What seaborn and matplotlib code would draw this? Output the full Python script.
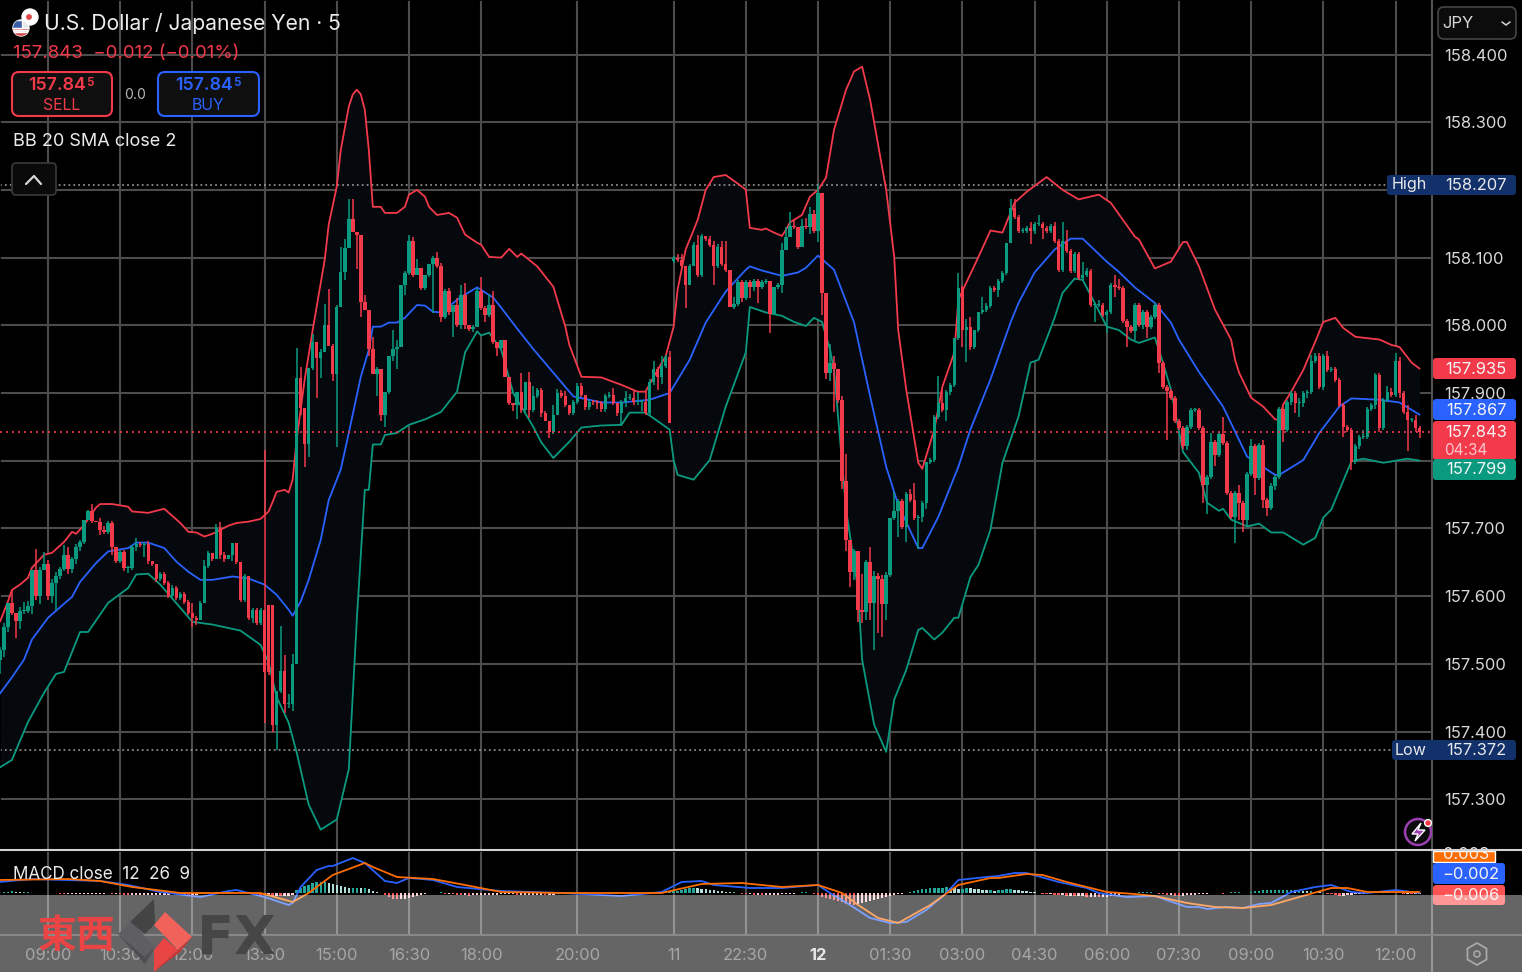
import numpy as np
import pandas as pd
import seaborn as sns
import matplotlib.pyplot as plt
from matplotlib.patches import FancyBboxPatch, Rectangle, Polygon, Circle, RegularPolygon

# 5 minute USD/JPY bars, bar 0 is the first 09:00 tick
first_bar = -12
closes = [
    157.520, 157.555, 157.590, 157.575, 157.563, 157.578, 157.578, 157.585, 157.638, 157.600,
    157.638, 157.648, 157.600, 157.620, 157.630, 157.640, 157.660, 157.640, 157.655, 157.672,
    157.680, 157.712, 157.725, 157.711, 157.710, 157.698, 157.695, 157.708, 157.672, 157.652,
    157.665, 157.642, 157.642, 157.672, 157.677, 157.675, 157.677, 157.652, 157.647, 157.626,
    157.633, 157.620, 157.600, 157.612, 157.597, 157.603, 157.592, 157.575, 157.567, 157.565,
    157.590, 157.645, 157.663, 157.655, 157.700, 157.660, 157.655, 157.660, 157.678, 157.650,
    157.595, 157.630, 157.567, 157.580, 157.560, 157.580, 157.488, 157.488, 157.410, 157.460,
    157.490, 157.440, 157.440, 157.500, 157.922, 157.878, 157.824, 157.937, 157.975, 157.952,
    157.960, 158.000, 157.970, 157.928, 158.027, 158.079, 158.114, 158.157, 158.138, 158.133,
    158.035, 158.023, 157.965, 157.928, 157.935, 157.868, 157.902, 157.955, 157.965, 157.968,
    158.060, 158.077, 158.125, 158.075, 158.085, 158.055, 158.075, 158.090, 158.100, 158.087,
    158.012, 158.050, 158.020, 158.030, 158.000, 158.045, 158.000, 157.995, 157.998, 158.050,
    158.025, 158.015, 158.030, 157.975, 157.966, 157.978, 157.924, 157.885, 157.883, 157.902,
    157.875, 157.917, 157.875, 157.895, 157.904, 157.870, 157.858, 157.843, 157.868, 157.900,
    157.895, 157.882, 157.871, 157.887, 157.910, 157.897, 157.880, 157.887, 157.886, 157.885,
    157.877, 157.895, 157.897, 157.885, 157.871, 157.887, 157.893, 157.893, 157.886, 157.886,
    157.886, 157.871, 157.917, 157.935, 157.924, 157.940, 157.953, 157.855, 158.100, 158.097,
    158.088, 158.059, 158.087, 158.118, 158.075, 158.132, 158.127, 158.119, 158.088, 158.115,
    158.090, 158.082, 158.027, 158.032, 158.064, 158.040, 158.064, 158.056, 158.066, 158.056,
    158.064, 158.066, 158.017, 158.057, 158.059, 158.111, 158.130, 158.147, 158.145, 158.115,
    158.147, 158.145, 158.165, 158.140, 158.195, 158.047, 157.930, 157.945, 157.935, 157.890,
    157.770, 157.683, 157.636, 157.667, 157.580, 157.577, 157.650, 157.590, 157.629, 157.626,
    157.589, 157.631, 157.715, 157.725, 157.740, 157.702, 157.751, 157.742, 157.715, 157.717,
    157.738, 157.798, 157.801, 157.865, 157.885, 157.875, 157.902, 157.912, 157.981, 158.055,
    157.993, 157.998, 157.968, 157.993, 158.020, 158.023, 158.028, 158.055, 158.052, 158.065,
    158.077, 158.121, 158.173, 158.160, 158.140, 158.140, 158.143, 158.140, 158.150, 158.150,
    158.144, 158.140, 158.147, 158.125, 158.082, 158.125, 158.110, 158.080, 158.105, 158.070,
    158.075, 158.080, 158.030, 158.030, 158.030, 158.015, 158.020, 158.060, 158.057, 158.055,
    158.007, 157.997, 157.992, 158.030, 158.000, 158.020, 157.998, 158.012, 158.030, 157.944,
    157.909, 157.903, 157.892, 157.858, 157.849, 157.821, 157.850, 157.875, 157.875, 157.848,
    157.764, 157.776, 157.827, 157.808, 157.840, 157.826, 157.752, 157.717, 157.752, 157.737,
    157.712, 157.781, 157.822, 157.774, 157.823, 157.742, 157.730, 157.762, 157.776, 157.877,
    157.845, 157.887, 157.900, 157.885, 157.885, 157.900, 157.902, 157.948, 157.954, 157.909,
    157.954, 157.934, 157.936, 157.919, 157.882, 157.850, 157.845, 157.798, 157.822, 157.835,
    157.835, 157.877, 157.882, 157.927, 157.848, 157.890, 157.902, 157.897, 157.948, 157.900,
    157.872, 157.860, 157.860, 157.848, 157.843,
]
# opens follow the previous close except at these gaps
first_open = 157.505
open_gaps = {55: 157.587, 56: 157.587, 156: 158.095}
# wicks in 0.001 yen above / below the body
upper_wick = [
    5, 5, 0, 19, 0, 6, 14, 8, 0, 31,
    5, 17, 6, 5, 5, 3, 15, 12, 3, 5,
    3, 0, 2, 11, 0, 5, 5, 3, 3, 0,
    3, 3, 3, 3, 9, 3, 3, 5, 0, 0,
    3, 3, 3, 5, 3, 3, 3, 3, 15, 3,
    3, 8, 3, 0, 6, 10, 5, 0, 0, 0,
    0, 3, 0, 3, 3, 3, 236, 0, 0, 0,
    66, 23, 15, 15, 45, 16, 0, 0, 12, 0,
    5, 32, 54, 3, 3, 36, 14, 30, 30, 0,
    0, 10, 0, 17, 3, 0, 0, 0, 28, 10,
    0, 3, 8, 5, 13, 0, 0, 0, 3, 8,
    5, 3, 5, 0, 10, 15, 18, 0, 3, 5,
    22, 3, 16, 20, 0, 0, 0, 0, 0, 0,
    27, 0, 14, 15, 3, 3, 3, 0, 14, 6,
    5, 8, 0, 3, 5, 5, 0, 3, 3, 3,
    3, 3, 5, 10, 0, 3, 10, 5, 10, 15,
    3, 15, 3, 12, 3, 15, 3, 9, 3, 6,
    9, 0, 3, 5, 15, 3, 0, 5, 5, 5,
    10, 34, 0, 10, 3, 3, 3, 3, 3, 3,
    3, 3, 0, 0, 3, 10, 15, 20, 10, 0,
    10, 12, 10, 5, 12, 0, 0, 27, 10, 0,
    5, 40, 0, 3, 0, 53, 3, 23, 8, 5,
    5, 5, 0, 29, 3, 3, 3, 7, 25, 3,
    3, 0, 3, 3, 40, 19, 3, 3, 0, 22,
    3, 12, 15, 0, 0, 19, 5, 3, 3, 3,
    3, 0, 13, 13, 3, 3, 3, 10, 3, 13,
    3, 3, 3, 5, 3, 27, 16, 3, 3, 3,
    19, 4, 3, 3, 8, 3, 3, 3, 15, 12,
    3, 3, 3, 3, 3, 3, 3, 3, 3, 3,
    3, 3, 3, 3, 3, 3, 3, 3, 3, 3,
    3, 3, 14, 3, 3, 25, 3, 3, 3, 12,
    3, 3, 10, 3, 3, 8, 3, 5, 3, 3,
    3, 3, 3, 3, 8, 3, 3, 8, 5, 5,
    3, 8, 3, 3, 3, 3, 3, 3, 3, 3,
    10, 3, 3, 3, 3, 3, 8, 5, 11, 5,
    3, 10, 3, 8, 3,
]
lower_wick = [
    20, 10, 8, 3, 25, 12, 5, 3, 12, 5,
    12, 0, 5, 10, 40, 5, 3, 8, 6, 8,
    5, 3, 0, 3, 0, 8, 3, 3, 12, 3,
    3, 5, 8, 3, 5, 3, 17, 5, 3, 5,
    3, 3, 3, 3, 3, 3, 3, 3, 12, 8,
    0, 0, 3, 3, 0, 5, 5, 0, 8, 3,
    3, 3, 3, 6, 3, 3, 75, 5, 10, 38,
    3, 12, 5, 10, 0, 10, 34, 18, 3, 59,
    30, 0, 0, 10, 108, 0, 12, 0, 0, 50,
    23, 0, 10, 0, 32, 10, 18, 3, 8, 30,
    0, 15, 3, 3, 0, 3, 3, 3, 72, 3,
    7, 3, 5, 38, 3, 5, 5, 3, 5, 0,
    3, 10, 3, 3, 12, 2, 0, 3, 10, 21,
    5, 3, 12, 3, 3, 5, 0, 10, 3, 0,
    3, 3, 3, 3, 3, 3, 5, 5, 3, 8,
    5, 5, 3, 3, 5, 20, 8, 3, 3, 3,
    12, 3, 3, 5, 20, 10, 3, 0, 3, 3,
    3, 34, 0, 0, 3, 3, 3, 3, 29, 3,
    3, 3, 0, 3, 3, 5, 3, 15, 5, 23,
    3, 3, 28, 0, 3, 12, 0, 0, 3, 3,
    0, 3, 10, 3, 17, 32, 10, 12, 63, 5,
    12, 17, 22, 12, 18, 17, 12, 25, 70, 81,
    49, 24, 3, 3, 37, 3, 22, 3, 3, 45,
    8, 10, 3, 3, 3, 3, 17, 5, 3, 3,
    25, 47, 5, 3, 3, 3, 3, 3, 3, 10,
    3, 3, 0, 3, 3, 3, 3, 20, 5, 3,
    17, 3, 3, 3, 3, 3, 3, 3, 3, 3,
    3, 3, 3, 25, 3, 3, 27, 3, 15, 3,
    3, 29, 3, 14, 3, 5, 17, 3, 3, 15,
    3, 73, 3, 3, 3, 3, 5, 3, 3, 3,
    27, 42, 3, 16, 3, 3, 3, 3, 39, 25,
    17, 10, 3, 25, 3, 12, 12, 3, 5, 3,
    17, 3, 5, 15, 20, 5, 8, 3, 3, 3,
    5, 3, 3, 3, 3, 15, 3, 11, 3, 5,
    3, 3, 3, 5, 5, 3, 3, 3, 3, 8,
    3, 45, 3, 5, 10,
]

bb_upper_bars = [
    -12, -10, -9, -7, -5, -4, -1, 1, 4, 6, 7, 9, 12, 13, 16, 18, 20, 21, 25, 29, 33, 35, 37, 39,
    41, 45, 47, 50, 53, 55, 56, 57, 59, 60, 61, 62, 64, 66, 69, 70, 72, 73, 75, 76, 77, 78, 79,
    80, 81, 83, 84, 87, 89, 90, 92, 94, 95, 97, 100, 102, 104, 107, 108, 110, 113, 115, 117, 118,
    122, 126, 129, 130, 133, 138, 143, 147, 149, 152, 154, 156, 157, 159, 161, 162, 164, 166, 169,
    173, 174, 175, 178, 179, 181, 183, 184, 185, 188, 190, 192, 194, 196, 199, 201, 203, 205, 209,
    211, 212, 214, 217, 218, 221, 223, 226, 227, 232, 235, 238, 241, 244, 249, 253, 257, 262, 265,
    271, 272, 276, 280, 283, 284, 287, 291, 295, 296, 297, 300, 303, 306, 307, 308, 310, 313, 316,
    318, 321, 323, 326, 332, 335, 337, 340, 342,
]
bb_upper = [
    157.562, 157.592, 157.609, 157.617, 157.627, 157.642, 157.661, 157.664, 157.680, 157.695,
    157.692, 157.705, 157.731, 157.736, 157.736, 157.734, 157.732, 157.725, 157.723, 157.729,
    157.708, 157.695, 157.694, 157.688, 157.692, 157.704, 157.708, 157.710, 157.714, 157.725,
    157.739, 157.754, 157.757, 157.753, 157.772, 157.831, 157.920, 157.993, 158.097, 158.149,
    158.205, 158.259, 158.323, 158.341, 158.348, 158.341, 158.318, 158.259, 158.175, 158.175,
    158.166, 158.166, 158.175, 158.193, 158.200, 158.190, 158.175, 158.163, 158.166, 158.159,
    158.134, 158.122, 158.119, 158.101, 158.100, 158.113, 158.101, 158.106, 158.087, 158.057,
    157.998, 157.971, 157.924, 157.923, 157.912, 157.902, 157.902, 157.934, 157.954, 157.998,
    158.053, 158.112, 158.141, 158.156, 158.200, 158.219, 158.222, 158.205, 158.200, 158.144,
    158.141, 158.143, 158.137, 158.132, 158.141, 158.152, 158.163, 158.190, 158.200, 158.218,
    158.289, 158.348, 158.375, 158.382, 158.333, 158.200, 158.101, 157.993, 157.905, 157.797,
    157.788, 157.846, 157.909, 157.960, 158.038, 158.101, 158.140, 158.137, 158.181, 158.197,
    158.219, 158.200, 158.186, 158.193, 158.181, 158.131, 158.127, 158.084, 158.094, 158.123,
    158.123, 158.087, 158.023, 157.979, 157.949, 157.930, 157.893, 157.880, 157.861, 157.861,
    157.883, 157.902, 157.934, 157.976, 158.005, 158.011, 157.996, 157.983, 157.979, 157.971,
    157.968, 157.945, 157.936,
]
bb_basis_bars = [
    -12, -9, -6, -4, 0, 6, 8, 12, 15, 20, 22, 25, 29, 32, 35, 38, 41, 46, 50, 54, 57, 60, 61, 63,
    65, 68, 70, 73, 75, 78, 80, 81, 83, 85, 87, 89, 92, 94, 96, 98, 103, 107, 111, 113, 117, 121,
    125, 131, 138, 143, 150, 155, 160, 164, 169, 174, 175, 178, 183, 187, 189, 192, 196, 201, 205,
    209, 212, 217, 218, 222, 227, 230, 235, 240, 242, 246, 251, 255, 258, 264, 267, 271, 276, 280,
    282, 287, 293, 299, 306, 307, 313, 317, 322, 325, 332, 337, 342,
]
bb_basis = [
    157.456, 157.480, 157.506, 157.536, 157.568, 157.599, 157.621, 157.649, 157.666, 157.671,
    157.679, 157.679, 157.671, 157.651, 157.636, 157.624, 157.624, 157.629, 157.626, 157.617,
    157.602, 157.580, 157.571, 157.592, 157.624, 157.683, 157.742, 157.787, 157.841, 157.924,
    157.964, 157.998, 157.998, 158.004, 158.004, 158.011, 158.030, 158.029, 158.020, 158.019,
    158.042, 158.056, 158.041, 158.026, 157.995, 157.965, 157.937, 157.895, 157.886, 157.886,
    157.890, 157.900, 157.949, 158.004, 158.050, 158.082, 158.087, 158.081, 158.073, 158.078,
    158.085, 158.103, 158.082, 158.004, 157.895, 157.791, 157.735, 157.671, 157.671, 157.717,
    157.791, 157.846, 157.920, 158.004, 158.033, 158.078, 158.112, 158.128, 158.128, 158.094,
    158.079, 158.056, 158.033, 158.004, 157.979, 157.931, 157.880, 157.806, 157.779, 157.779,
    157.801, 157.841, 157.880, 157.892, 157.890, 157.886, 157.868,
]
bb_lower_bars = [
    -12, -9, -5, -1, 2, 4, 8, 10, 15, 20, 22, 25, 28, 36, 41, 48, 53, 55, 57, 60, 62, 65, 68, 72,
    75, 77, 79, 80, 81, 83, 84, 87, 90, 94, 98, 102, 104, 107, 108, 110, 113, 116, 121, 123, 126,
    130, 133, 138, 143, 145, 149, 155, 156, 157, 161, 165, 169, 174, 175, 179, 183, 186, 189, 191,
    193, 195, 196, 199, 202, 203, 206, 209, 211, 214, 217, 218, 221, 223, 226, 227, 230, 232, 235,
    238, 242, 245, 247, 251, 253, 256, 258, 261, 264, 267, 270, 272, 276, 278, 280, 283, 287, 289,
    292, 293, 295, 299, 302, 305, 308, 313, 316, 318, 320, 325, 328, 333, 339, 342,
]
bb_lower = [
    157.347, 157.358, 157.414, 157.457, 157.485, 157.488, 157.547, 157.547, 157.590, 157.612,
    157.632, 157.633, 157.617, 157.562, 157.558, 157.549, 157.528, 157.502, 157.451, 157.413,
    157.369, 157.292, 157.255, 157.270, 157.344, 157.565, 157.757, 157.757, 157.824, 157.824,
    157.838, 157.841, 157.853, 157.861, 157.872, 157.902, 157.960, 157.991, 157.985, 157.989,
    157.964, 157.900, 157.850, 157.827, 157.804, 157.828, 157.849, 157.852, 157.853, 157.871,
    157.871, 157.846, 157.801, 157.779, 157.772, 157.801, 157.880, 157.960, 158.027, 158.019,
    158.014, 158.005, 157.999, 158.011, 158.005, 157.964, 157.934, 157.728, 157.609, 157.506,
    157.410, 157.370, 157.447, 157.491, 157.550, 157.553, 157.536, 157.546, 157.568, 157.568,
    157.628, 157.646, 157.698, 157.797, 157.865, 157.945, 157.949, 158.011, 158.048, 158.069,
    158.067, 158.033, 157.998, 157.993, 157.979, 157.974, 157.982, 157.945, 157.905, 157.813,
    157.782, 157.738, 157.726, 157.729, 157.713, 157.703, 157.707, 157.694, 157.694, 157.676,
    157.686, 157.716, 157.728, 157.799, 157.803, 157.797, 157.803, 157.800,
]

# MACD pane
macd_bars = [
    -12, -4, 13, 20, 28, 38, 45, 47, 54, 60, 61, 63, 67, 70, 71, 76, 79, 84, 87, 90, 96, 102, 113,
    128, 143, 153, 158, 163, 166, 175, 183, 192, 195, 200, 205, 210, 214, 219, 224, 227, 234, 237,
    241, 244, 252, 259, 262, 269, 276, 284, 287, 289, 294, 298, 302, 305, 310, 316, 320, 325, 329,
    336, 342,
]
macd_line = [
    0.044, 0.056, 0.048, 0.032, 0.004, -0.016, 0.008, 0.012, -0.016, -0.048, -0.040, 0.024, 0.092,
    0.108, 0.108, 0.140, 0.120, 0.048, 0.040, 0.060, 0.052, 0.024, 0.008, 0.000, -0.012, 0.004,
    0.044, 0.048, 0.032, 0.020, 0.020, 0.032, 0.000, -0.048, -0.100, -0.120, -0.116, -0.068, 0.000,
    0.052, 0.064, 0.068, 0.080, 0.080, 0.044, 0.020, 0.000, -0.016, -0.012, -0.056, -0.056, -0.064,
    -0.056, -0.060, -0.044, -0.040, 0.004, 0.024, 0.032, 0.004, 0.000, 0.012, 0.000,
]
signal_bars = [
    -12, 5, 13, 21, 33, 45, 53, 61, 65, 71, 79, 81, 87, 96, 104, 113, 128, 153, 163, 173, 183, 192,
    198, 202, 207, 212, 220, 227, 235, 237, 244, 248, 254, 264, 271, 276, 284, 291, 298, 305, 312,
    320, 324, 329, 342,
]
signal_line = [
    0.052, 0.056, 0.048, 0.024, 0.000, 0.000, 0.000, -0.036, 0.000, 0.072, 0.120, 0.104, 0.064,
    0.056, 0.032, 0.004, 0.000, 0.000, 0.036, 0.040, 0.024, 0.032, 0.000, -0.048, -0.100, -0.120,
    -0.048, 0.032, 0.060, 0.060, 0.076, 0.072, 0.044, 0.004, -0.004, -0.012, -0.040, -0.056, -0.060,
    -0.048, -0.016, 0.020, 0.020, 0.004, 0.004,
]
# histogram in 0.001 units, one value per bar
histogram = [
    4, 4, 6, 8, 6, 4, 4, 4, 2, 2,
    2, 2, 2, 2, 2, -2, -4, -4, -4, -4,
    -4, -4, -4, -2, -2, -2, -2, 2, -2, -2,
    -4, -6, -8, -8, -8, -6, -6, -6, -6, -6,
    -6, -6, -6, -4, -4, -6, -6, -8, -8, -8,
    -4, -4, 2, 2, 4, 4, 4, 4, 4, 2,
    2, 2, -2, -4, -6, -8, -8, -8, -10, -10,
    -12, -12, -10, -8, 12, 20, 28, 34, 40, 44,
    44, 44, 40, 36, 32, 28, 24, 22, 22, 22,
    20, 20, 16, 10, 4, 0, -8, -16, -22, -24,
    -24, -22, -20, -16, -10, -6, -4, 2, 2, 2,
    4, -4, -2, -4, -6, -8, -8, -10, -8, -8,
    -8, -8, -6, -6, -6, -4, -4, -4, -4, -6,
    -6, -6, -6, -6, -6, -6, -8, -8, -6, -4,
    -4, -4, -2, -2, 2, 2, 4, 2, 2, 2,
    2, 2, 4, 4, 4, 2, 2, 2, 2, 2,
    2, 2, 4, 4, 6, 6, 8, 8, 8, 10,
    14, 18, 20, 22, 20, 18, 16, 14, 12, 10,
    8, 6, 4, 4, 2, -2, -4, -4, -6, -6,
    -8, -8, -8, -6, -6, -4, -4, -2, -2, 2,
    4, 4, 2, -4, -8, -14, -20, -24, -28, -32,
    -36, -42, -44, -46, -44, -40, -34, -30, -26, -22,
    -18, -14, -10, -6, -2, -2, 2, 6, 10, 14,
    16, 18, 20, 20, 22, 22, 24, 22, 20, 18,
    18, 22, 20, 18, 16, 14, 12, 12, 10, 12,
    14, 16, 16, 14, 12, 10, 8, 6, 4, 2,
    -2, -4, -4, -6, -8, -8, -10, -10, -12, -12,
    -12, -14, -14, -14, -16, -16, -14, -12, -10, -6,
    -4, -2, 2, 2, 4, 4, 4, 4, 2, -2,
    -4, -6, -6, -10, -12, -10, -8, -6, -6, -4,
    -2, -2, 2, 2, 2, -2, 2, 4, 4, 4,
    2, 2, 4, 8, 10, 14, 14, 14, 14, 14,
    14, 14, 14, 12, 12, 10, 8, 8, 6, 4,
    2, -2, -4, -6, -10, -10, -8, -6, -4, -2,
    -2, 2, 4, 6, 6, 4, 4, 2, 2, 2,
    -2, -2, -4, -4, -4,
]

time_ticks = [0, 18, 36, 54, 72, 90, 108, 132, 156, 174, 192, 210, 228, 246, 264, 282, 300, 318, 336]
time_labels = ['09:00', '10:30', '12:00', '13:30', '15:00', '16:30', '18:00', '20:00', '11', '22:30',
               '12', '01:30', '03:00', '04:30', '06:00', '07:30', '09:00', '10:30', '12:00']
price_ticks = [157.3, 157.4, 157.5, 157.6, 157.7, 157.8, 157.9, 158.0, 158.1, 158.2, 158.3, 158.4]
# these two grid levels have no label, the High and last price tags sit on them
unlabelled_ticks = [157.8, 158.2]
last_price = 157.843
day_high = 158.207
day_low = 157.372

RED = '#f23a4b'
GREEN = '#0a9a80'
BLUE = '#2962ff'
ORANGE = '#ff6d00'
GRID = '#4c4c4c'
NAVY = '#12306a'

sns.set_theme(style='dark', rc={'figure.facecolor': 'black', 'axes.facecolor': 'black',
                                'axes.edgecolor': 'black', 'savefig.facecolor': 'black'})
plt.rcParams['font.family'] = ['Inter', 'DejaVu Sans']

W, H = 1522, 972
fig = plt.figure(figsize=(W / 100, H / 100), dpi=100)
ax = fig.add_axes([0, (H - 850) / H, 1432 / W, 850 / H])
ax_macd = fig.add_axes([0, (H - 935) / H, 1432 / W, 84 / H])
ui = fig.add_axes([0, 0, 1, 1])
ui.set_xlim(0, W)
ui.set_ylim(H, 0)
ui.axis('off')
ui.patch.set_alpha(0)

bars = pd.DataFrame({'bar': first_bar + np.arange(len(closes)), 'close': closes,
                     'up': upper_wick, 'down': lower_wick, 'hist': histogram})
bars['open'] = bars['close'].shift(1).fillna(first_open)
for b, price in open_gaps.items():
    bars.loc[bars['bar'] == b, 'open'] = price
bars['top'] = bars[['open', 'close']].max(axis=1)
bars['bottom'] = bars[['open', 'close']].min(axis=1)
bars['high'] = bars['top'] + bars['up'] / 1000
bars['low'] = bars['bottom'] - bars['down'] / 1000
bar_colors = np.where(bars['close'] >= bars['open'], GREEN, RED)

# bands and their fill
grid_bars = bars['bar'].to_numpy()
ax.fill_between(grid_bars, np.interp(grid_bars, bb_upper_bars, bb_upper),
                np.interp(grid_bars, bb_lower_bars, bb_lower), color='#05090e', lw=0, zorder=1)
sns.lineplot(x=bb_upper_bars, y=bb_upper, ax=ax, color=RED, lw=1.3, zorder=3)
sns.lineplot(x=bb_basis_bars, y=bb_basis, ax=ax, color=BLUE, lw=1.3, zorder=3)
sns.lineplot(x=bb_lower_bars, y=bb_lower, ax=ax, color=GREEN, lw=1.3, zorder=3)

# candles
ax.vlines(bars['bar'], bars['low'], bars['high'], colors=bar_colors, lw=1.1, zorder=4)
ax.bar(bars['bar'], (bars['top'] - bars['bottom']).clip(lower=0.0015), bottom=bars['bottom'],
       width=0.86, color=bar_colors, lw=0, zorder=4)

ax.axhline(last_price, color=RED, lw=1.2, ls=(0, (1.2, 2.4)), zorder=5)
ax.axhline(day_high, color='#a0a0a0', lw=1.1, ls=(0, (1.2, 2.0)), zorder=2)
ax.axhline(day_low, color='#a0a0a0', lw=1.1, ls=(0, (1.2, 2.0)), zorder=2)

ax.set_xlim(-11.97, 345.1)
ax.set_ylim(157.225, 158.4805)
ax.set_xticks(time_ticks)
ax.set_xticklabels([])
ax.set_yticks(price_ticks)
ax.set_yticklabels(['' if p in unlabelled_ticks else f'{p:.3f}' for p in price_ticks])
ax.yaxis.tick_right()
ax.tick_params(axis='y', length=0, pad=9, labelsize=11.9, labelcolor='#d8d8d8')
ax.tick_params(axis='x', length=0)
ax.grid(True, color=GRID, lw=1.5, zorder=0)
ax.set_axisbelow(True)
ax.set_xlabel('')
ax.set_ylabel('')

# MACD pane, tick labels sit under the grey overlay
hist = bars['hist'].to_numpy()
rising = np.diff(hist, prepend=hist[0]) >= 0
hist_colors = np.select([(hist >= 0) & rising, hist >= 0, rising],
                        ['#26a69a', '#b2dfdb', '#ffcdd2'], '#ff5252')
ax_macd.bar(bars['bar'], hist / 1000, width=0.6, color=hist_colors, lw=0, zorder=2)
sns.lineplot(x=macd_bars, y=macd_line, ax=ax_macd, color=BLUE, lw=1.3, zorder=3)
sns.lineplot(x=signal_bars, y=signal_line, ax=ax_macd, color=ORANGE, lw=1.3, zorder=4)
ax_macd.set_xlim(-11.97, 345.1)
ax_macd.set_ylim(-0.168, 0.168)
ax_macd.set_xticks(time_ticks)
ax_macd.set_xticklabels(time_labels)
ax_macd.set_yticks([])
ax_macd.tick_params(axis='x', length=0, pad=9.5, labelsize=11.9, labelcolor='#6c6c6c')
ax_macd.grid(True, axis='x', color=GRID, lw=1.5, zorder=0)
ax_macd.set_axisbelow(True)
ax_macd.set_xlabel('')
ax_macd.set_ylabel('')
for lab in ax_macd.get_xticklabels():
    if lab.get_text() == '12':
        lab.set_fontweight('bold')
        lab.set_color('#d8d8d8')

# pane borders
ui.plot([1432, 1432], [0, H], color='#525252', lw=1.5, zorder=2)
ui.plot([0, W], [850, 850], color='#d2d2d2', lw=1.5, zorder=6)
ui.plot([0, W], [935, 935], color='#3a3a3a', lw=1.5, zorder=2)


def rbox(x0, y0, x1, y1, face, edge='none', lw=0, r=4, z=5, alpha=None):
    ui.add_patch(FancyBboxPatch((x0 + r, y0 + r), x1 - x0 - 2 * r, y1 - y0 - 2 * r,
                                boxstyle=f'round,pad={r}', fc=face, ec=edge, lw=lw, zorder=z, alpha=alpha,
                                mutation_aspect=1))


def label(x, y, s, size=11.9, color='white', ha='center', z=7, **kw):
    return ui.text(x, y + 1, s, fontsize=size, color=color, ha=ha, va='center', zorder=z, **kw)


# header
label(44, 23, 'U.S. Dollar / Japanese Yen · 5', size=15.2, color='#ececec', ha='left')
label(13, 53, '157.843  −0.012 (−0.01%)', size=13.4, color=RED, ha='left')
label(13, 140, 'BB 20 SMA close 2', size=13, color='#ececec', ha='left')
rbox(12, 72, 112, 116, '#0f0f0f', RED, 1.5, r=7)
rbox(158, 72, 259, 116, '#0f0f0f', BLUE, 1.5, r=7)
label(28, 85, '157.84', size=12.8, color=RED, ha='left', fontweight='semibold')
label(86, 82, '5', size=8.5, color=RED, ha='left', fontweight='semibold')
label(62, 104, 'SELL', size=11.4, color=RED)
label(175, 85, '157.84', size=12.8, color=BLUE, ha='left', fontweight='semibold')
label(233, 82, '5', size=8.5, color=BLUE, ha='left', fontweight='semibold')
label(208, 104, 'BUY', size=11.4, color=BLUE)
label(135, 94, '0.0', size=10, color='#b8b8b8')
rbox(12, 163, 56, 195, '#0a0a0a', '#3a3a3a', 1.2, r=4, z=5)
ui.plot([26, 34, 41], [184, 176, 184], color='#d8d8d8', lw=1.6, zorder=7)

# flags
ui.add_patch(Circle((30, 17), 8, fc='white', zorder=5))
ui.add_patch(Circle((29, 17), 3.6, fc='#e04848', zorder=6))
us_flag = Circle((21, 28), 8, fc='#e8e8e8', zorder=6)
ui.add_patch(us_flag)
for stripe in [Rectangle((12, 28), 18, 2.5, fc='#d84848', zorder=7),
               Rectangle((12, 32.5), 18, 3.5, fc='#d84848', zorder=7),
               Rectangle((12, 20), 10, 8, fc='#3d5fa8', zorder=7)]:
    ui.add_patch(stripe)
    stripe.set_clip_path(us_flag)

# currency button
rbox(1438, 7, 1516, 39, '#0c0c0c', '#454545', 1.2, r=6)
label(1458, 22, 'JPY', size=11.9, color='#d8d8d8')
ui.plot([1502, 1506, 1510], [22, 25, 22], color='#d8d8d8', lw=1.1, zorder=7)

# price labels on the right
rbox(1387, 175, 1516, 195, NAVY, r=3)
label(1409, 184, 'High', size=11.6, color='#e8e8e8')
label(1476, 184, '158.207', color='#e8e8e8')
rbox(1392, 740, 1516, 760, NAVY, r=3)
label(1411, 749, 'Low', size=11.6, color='#e8e8e8')
label(1476, 749, '157.372', color='#e8e8e8')
rbox(1433, 358, 1516, 379, RED, r=3)
label(1476, 368, '157.935', color='#f4f4f4')
rbox(1433, 399, 1516, 420, BLUE, r=3)
label(1476, 409, '157.867', color='#f4f4f4')
rbox(1433, 421, 1516, 460, RED, r=3)
label(1476, 431, '157.843', color='#f4f4f4')
label(1444, 449, '04:34', size=11, color='#fbc4c9', ha='left')
rbox(1433, 459, 1516, 480, GREEN, r=3)
label(1476, 468, '157.799', color='#f4f4f4')

# event icon
ui.add_patch(Circle((1418, 832), 13, fc='#0c0c0c', ec='#9c3fb0', lw=1.8, zorder=5))
ui.add_patch(Polygon([(1421, 823), (1412, 834), (1418, 834), (1415, 841), (1425, 830), (1418, 830)],
                     fc='#9c3fb0', zorder=6))
ui.add_patch(Circle((1428, 823), 3.4, fc=RED, zorder=7))

# MACD legend and value boxes
label(13, 873, 'MACD close  12  26  9', size=12.3, color='#ececec', ha='left', z=4)
orange_box = Rectangle((1433, 851), 62, 11, fc=ORANGE, zorder=3)
ui.add_patch(orange_box)
label(1466, 853, '0.003', color='#f4f4f4', z=3.5).set_clip_path(orange_box)
rbox(1433, 863, 1505, 884, BLUE, r=3, z=3)
label(1471, 873, '−0.002', color='#f4f4f4', z=3.5)
rbox(1433, 885, 1505, 905, '#ff5252', r=3, z=3)
label(1471, 894, '−0.006', color='#f4f4f4', z=3.5)

# grey overlay with the watermark on top
ui.add_patch(Rectangle((0, 895), W, H - 895, fc='white', alpha=0.4, lw=0, zorder=8))
ui.add_patch(RegularPolygon((1477, 954), 6, radius=11, orientation=0, fc='none', ec='#a8a8a8', lw=1.3, zorder=9))
ui.add_patch(Circle((1477, 954), 3, fc='none', ec='#a8a8a8', lw=1.2, zorder=9))
ui.text(38, 936, '東西', fontsize=28, color='#ea4444', ha='left', va='center', zorder=10,
        fontweight='bold', family=['Noto Sans CJK TC', 'DejaVu Sans'])
ui.add_patch(Polygon([(130, 922), (154, 899), (155, 924), (145, 934)], fc='#444444', lw=0, zorder=10))
ui.add_patch(Polygon([(118, 934), (131, 922), (155, 947), (145, 957)], fc='#5f5f63', lw=0, zorder=10))
ui.add_patch(Polygon([(118, 934), (145, 957), (155, 947), (145, 964)], fc='#4e4e50', lw=0, zorder=10))
ui.add_patch(Polygon([(154, 925), (165, 912), (192, 937), (178, 950)], fc='#f0625a', lw=0, zorder=10))
ui.add_patch(Polygon([(154, 950), (164, 938), (178, 950), (154, 972)], fc='#e84444', lw=0, zorder=10))
ui.add_patch(Polygon([(154, 972), (178, 950), (192, 937), (180, 952)], fc='#c83636', lw=0, zorder=10))
ui.text(197, 938, 'FX', fontsize=39, color='#464646', ha='left', va='center', zorder=10,
        fontweight='bold', family=['DejaVu Sans'])

fig.savefig('out.png', dpi=100)
